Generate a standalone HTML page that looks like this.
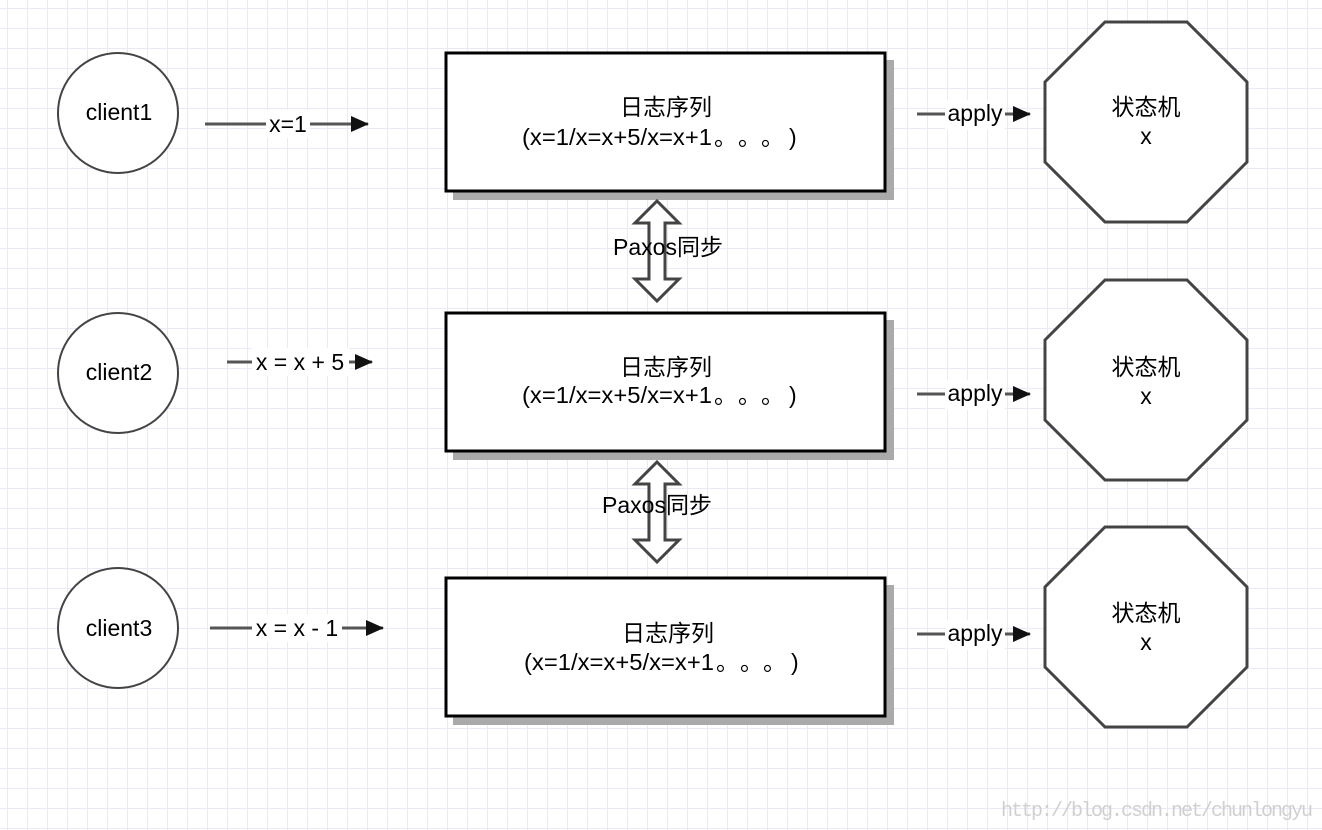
<!DOCTYPE html>
<html><head><meta charset="utf-8"><style>
html,body{margin:0;padding:0}
body{width:1322px;height:830px;overflow:hidden;background:#fff;
background-image:linear-gradient(to right,#e9e9fa 1px,transparent 1px),linear-gradient(to bottom,#e9e9fa 1px,transparent 1px);
background-size:20px 20px;background-position:7px 8px;}
svg{position:absolute;left:0;top:0}
text{font-family:"Liberation Sans","Noto Sans CJK SC",sans-serif;font-size:23px;fill:#000}
</style></head><body>
<svg width="1322" height="830" viewBox="0 0 1322 830">
<defs>
<marker id="ah" markerWidth="18" markerHeight="16" refX="17" refY="8" orient="auto" markerUnits="userSpaceOnUse"><path d="M0,0 L18,8 L0,16 z" fill="#111"/></marker>
</defs>
<g fill="#fff" stroke="#444" stroke-width="2">
<circle cx="118" cy="113" r="60"/><circle cx="118" cy="373" r="60"/><circle cx="118" cy="628" r="60"/>
</g>
<g text-anchor="middle">
<text x="119" y="120">client1</text>
<text x="119" y="380">client2</text>
<text x="119" y="636">client3</text>
</g>
<g fill="#aaa"><rect x="453" y="60" width="441" height="140"/><rect x="453" y="320" width="441" height="140"/><rect x="453" y="585" width="441" height="140"/></g>
<g fill="#fff" stroke="#000" stroke-width="3">
<rect x="446" y="53" width="439" height="138"/><rect x="446" y="313" width="439" height="138"/><rect x="446" y="578" width="439" height="138"/>
</g>
<text x="620" y="115">日志序列</text>
<text y="145"><tspan x="522" textLength="190" lengthAdjust="spacingAndGlyphs">(x=1/x=x+5/x=x+1</tspan><tspan x="714">。</tspan><tspan x="738">。</tspan><tspan x="761">。</tspan><tspan x="789">)</tspan></text>
<text x="620" y="375">日志序列</text>
<text y="403"><tspan x="522" textLength="190" lengthAdjust="spacingAndGlyphs">(x=1/x=x+5/x=x+1</tspan><tspan x="714">。</tspan><tspan x="738">。</tspan><tspan x="761">。</tspan><tspan x="789">)</tspan></text>
<text x="622" y="641">日志序列</text>
<text y="670"><tspan x="524" textLength="190" lengthAdjust="spacingAndGlyphs">(x=1/x=x+5/x=x+1</tspan><tspan x="716">。</tspan><tspan x="740">。</tspan><tspan x="763">。</tspan><tspan x="791">)</tspan></text>
<g fill="#fff" stroke="#444" stroke-width="3">
<polygon points="1105,22 1187,22 1247,82 1247,162 1187,222 1105,222 1045,162 1045,82"/>
<polygon points="1105,280 1187,280 1247,340 1247,420 1187,480 1105,480 1045,420 1045,340"/>
<polygon points="1105,527 1187,527 1247,587 1247,667 1187,727 1105,727 1045,667 1045,587"/>
</g>
<g text-anchor="middle">
<text x="1146" y="115">状态机</text><text x="1146" y="144">x</text>
<text x="1146" y="375">状态机</text><text x="1146" y="404">x</text>
<text x="1146" y="621">状态机</text><text x="1146" y="650">x</text>
</g>
<g stroke="#555" stroke-width="3" fill="none">
<line x1="205" y1="124" x2="368" y2="124" marker-end="url(#ah)"/>
<line x1="227" y1="362" x2="372" y2="362" marker-end="url(#ah)"/>
<line x1="210" y1="628" x2="383" y2="628" marker-end="url(#ah)"/>
<line x1="917" y1="114" x2="1030" y2="114" marker-end="url(#ah)"/>
<line x1="917" y1="394" x2="1030" y2="394" marker-end="url(#ah)"/>
<line x1="917" y1="634" x2="1030" y2="634" marker-end="url(#ah)"/>
</g>
<g fill="#fff">
<rect x="266" y="110" width="44" height="28"/><rect x="252" y="348" width="97" height="28"/><rect x="252" y="614" width="90" height="28"/>
<rect x="945" y="100" width="60" height="30"/><rect x="945" y="380" width="60" height="30"/><rect x="945" y="620" width="60" height="30"/>
</g>
<g fill="#fff" stroke="#444" stroke-width="3">
<polygon points="657,201 679,223 665,223 665,279 679,279 657,301 635,279 649,279 649,223 635,223"/>
<polygon points="657,462 679,484 665,484 665,540 679,540 657,562 635,540 649,540 649,484 635,484"/>
</g>
<g text-anchor="middle">
<text x="288" y="132">x=1</text>
<text x="300" y="370">x = x + 5</text>
<text x="297" y="636">x = x - 1</text>
<text x="975" y="121">apply</text><text x="975" y="401">apply</text><text x="975" y="641">apply</text>
<text x="668" y="255">Paxos同步</text>
<text x="657" y="513">Paxos同步</text>
</g>
<text x="1001" y="816" textLength="312" style="font-family:'Liberation Mono',monospace;font-size:20px;fill:#d0d0d0">http://blog.csdn.net/chunlongyu</text>
</svg>
</body></html>
